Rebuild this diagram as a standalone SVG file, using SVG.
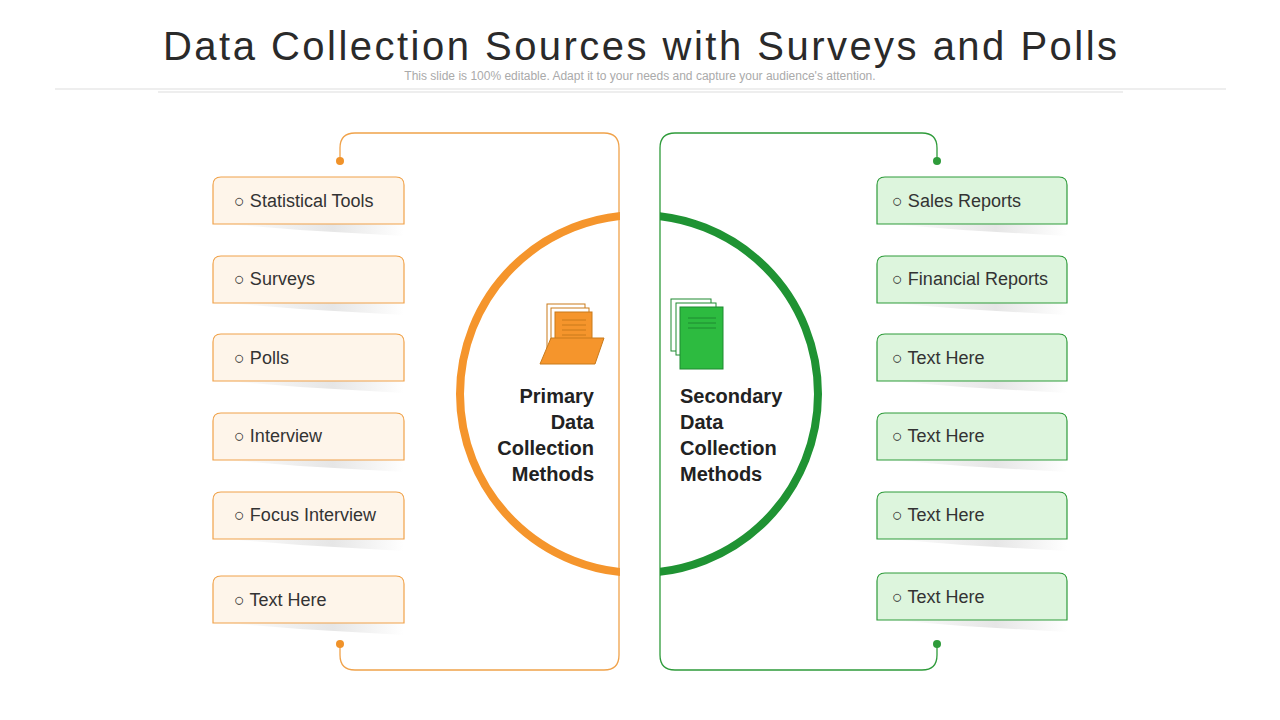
<svg xmlns="http://www.w3.org/2000/svg" width="1280" height="720" viewBox="0 0 1280 720">
<defs>
<linearGradient id="sh" x1="0" y1="0" x2="1" y2="0"><stop offset="0" stop-color="#fff"/><stop offset="0.6" stop-color="#e6e6e6"/><stop offset="1" stop-color="#fff"/></linearGradient>
<clipPath id="cl"><rect x="0" y="0" width="620" height="720"/></clipPath>
<clipPath id="cr"><rect x="660" y="0" width="620" height="720"/></clipPath>
</defs>
<style>
.t{font-family:"Liberation Sans",Arial,sans-serif}
.bo{fill:#fef5ea;stroke:#f0a24a;stroke-width:1.2}
.bg{fill:#ddf5dd;stroke:#2e9b3a;stroke-width:1.2}
.lb{font-family:"Liberation Sans",Arial,sans-serif;font-size:18px;fill:#333}
.h{font-family:"Liberation Sans",Arial,sans-serif;font-size:20px;font-weight:bold;fill:#222}
</style>
<rect width="1280" height="720" fill="#fff"/>
<text x="163" y="60" textLength="954" lengthAdjust="spacing" class="t" font-size="40" fill="#2a2a2a">Data Collection Sources with Surveys and Polls</text>
<text x="640" y="80" text-anchor="middle" class="t" font-size="12" fill="#aaa">This slide is 100% editable. Adapt it to your needs and capture your audience's attention.</text>
<line x1="55" y1="89" x2="1226" y2="89" stroke="#ddd"/>
<line x1="158" y1="92" x2="1123" y2="92" stroke="#ddd"/>
<g id="connectors" fill="none" stroke-width="1.3">
<path d="M340 161 V148 Q340 133 355 133 H604 Q619 133 619 148 V655 Q619 670 604 670 H355 Q340 670 340 655 V644" stroke="#f0a24a"/>
<path d="M937 161 V148 Q937 133 922 133 H675 Q660 133 660 148 V655 Q660 670 675 670 H922 Q937 670 937 655 V644" stroke="#2e9b3a"/>
<circle cx="340" cy="161" r="4" fill="#f0922a" stroke="none"/>
<circle cx="340" cy="644" r="4" fill="#f0922a" stroke="none"/>
<circle cx="937" cy="161" r="4" fill="#2e9b3a" stroke="none"/>
<circle cx="937" cy="644" r="4" fill="#2e9b3a" stroke="none"/>
</g>
<g id="center">
<circle cx="639" cy="394" r="179" fill="none" stroke="#f5952c" stroke-width="8" clip-path="url(#cl)"/>
<circle cx="639" cy="394" r="179" fill="none" stroke="#1f9333" stroke-width="8" clip-path="url(#cr)"/>
<g id="folder">
<rect x="547" y="304" width="38" height="44" fill="#fff" stroke="#c97a1a"/>
<rect x="551" y="308" width="38" height="44" fill="#fff" stroke="#c97a1a"/>
<rect x="555" y="312" width="37" height="44" fill="#f5952c" stroke="#c97a1a"/>
<g stroke="#c97a1a"><line x1="562" y1="320" x2="586" y2="320"/><line x1="562" y1="325" x2="586" y2="325"/><line x1="562" y1="330" x2="586" y2="330"/><line x1="562" y1="335" x2="586" y2="335"/></g>
<polygon points="551,338 604,338 595,364 540,364" fill="#f5952c" stroke="#c97a1a"/>
</g>
<g id="docs">
<rect x="671" y="299" width="40" height="52" fill="#fff" stroke="#1f8a30"/>
<rect x="676" y="303" width="40" height="52" fill="#fff" stroke="#1f8a30"/>
<rect x="680" y="307" width="43" height="62" fill="#2dbb40" stroke="#1f8a30"/>
<g stroke="#1f8a30"><line x1="688" y1="318" x2="716" y2="318"/><line x1="688" y1="323" x2="716" y2="323"/><line x1="688" y1="328" x2="716" y2="328"/></g>
</g>
<text class="h" text-anchor="end"><tspan x="594" y="403">Primary</tspan><tspan x="594" y="429">Data</tspan><tspan x="594" y="455">Collection</tspan><tspan x="594" y="481">Methods</tspan></text>
<text class="h"><tspan x="680" y="403">Secondary</tspan><tspan x="680" y="429">Data</tspan><tspan x="680" y="455">Collection</tspan><tspan x="680" y="481">Methods</tspan></text>
</g>
<g id="left">
<g id="l1"><polygon points="225,224 404,224 404,236 300,230" fill="url(#sh)"/><path class="bo" d="M213 224 V185 Q213 177 221 177 H396 Q404 177 404 185 V224 Z"/><text class="lb" x="234" y="207">○ Statistical Tools</text></g>
<g id="l2"><polygon points="225,303 404,303 404,315 300,309" fill="url(#sh)"/><path class="bo" d="M213 303 V264 Q213 256 221 256 H396 Q404 256 404 264 V303 Z"/><text class="lb" x="234" y="285">○ Surveys</text></g>
<g id="l3"><polygon points="225,381 404,381 404,393 300,387" fill="url(#sh)"/><path class="bo" d="M213 381 V342 Q213 334 221 334 H396 Q404 334 404 342 V381 Z"/><text class="lb" x="234" y="364">○ Polls</text></g>
<g id="l4"><polygon points="225,460 404,460 404,472 300,466" fill="url(#sh)"/><path class="bo" d="M213 460 V421 Q213 413 221 413 H396 Q404 413 404 421 V460 Z"/><text class="lb" x="234" y="442">○ Interview</text></g>
<g id="l5"><polygon points="225,539 404,539 404,551 300,545" fill="url(#sh)"/><path class="bo" d="M213 539 V500 Q213 492 221 492 H396 Q404 492 404 500 V539 Z"/><text class="lb" x="234" y="521">○ Focus Interview</text></g>
<g id="l6"><polygon points="225,623 404,623 404,635 300,629" fill="url(#sh)"/><path class="bo" d="M213 623 V584 Q213 576 221 576 H396 Q404 576 404 584 V623 Z"/><text class="lb" x="234" y="606">○ Text Here</text></g>
</g>
<g id="right">
<g id="r1"><polygon points="889,224 1067,224 1067,236 963,230" fill="url(#sh)"/><path class="bg" d="M877 224 V185 Q877 177 885 177 H1059 Q1067 177 1067 185 V224 Z"/><text class="lb" x="892" y="207">○ Sales Reports</text></g>
<g id="r2"><polygon points="889,303 1067,303 1067,315 963,309" fill="url(#sh)"/><path class="bg" d="M877 303 V264 Q877 256 885 256 H1059 Q1067 256 1067 264 V303 Z"/><text class="lb" x="892" y="285">○ Financial Reports</text></g>
<g id="r3"><polygon points="889,381 1067,381 1067,393 963,387" fill="url(#sh)"/><path class="bg" d="M877 381 V342 Q877 334 885 334 H1059 Q1067 334 1067 342 V381 Z"/><text class="lb" x="892" y="364">○ Text Here</text></g>
<g id="r4"><polygon points="889,460 1067,460 1067,472 963,466" fill="url(#sh)"/><path class="bg" d="M877 460 V421 Q877 413 885 413 H1059 Q1067 413 1067 421 V460 Z"/><text class="lb" x="892" y="442">○ Text Here</text></g>
<g id="r5"><polygon points="889,539 1067,539 1067,551 963,545" fill="url(#sh)"/><path class="bg" d="M877 539 V500 Q877 492 885 492 H1059 Q1067 492 1067 500 V539 Z"/><text class="lb" x="892" y="521">○ Text Here</text></g>
<g id="r6"><polygon points="889,620 1067,620 1067,632 963,626" fill="url(#sh)"/><path class="bg" d="M877 620 V581 Q877 573 885 573 H1059 Q1067 573 1067 581 V620 Z"/><text class="lb" x="892" y="603">○ Text Here</text></g>
</g>
</svg>
